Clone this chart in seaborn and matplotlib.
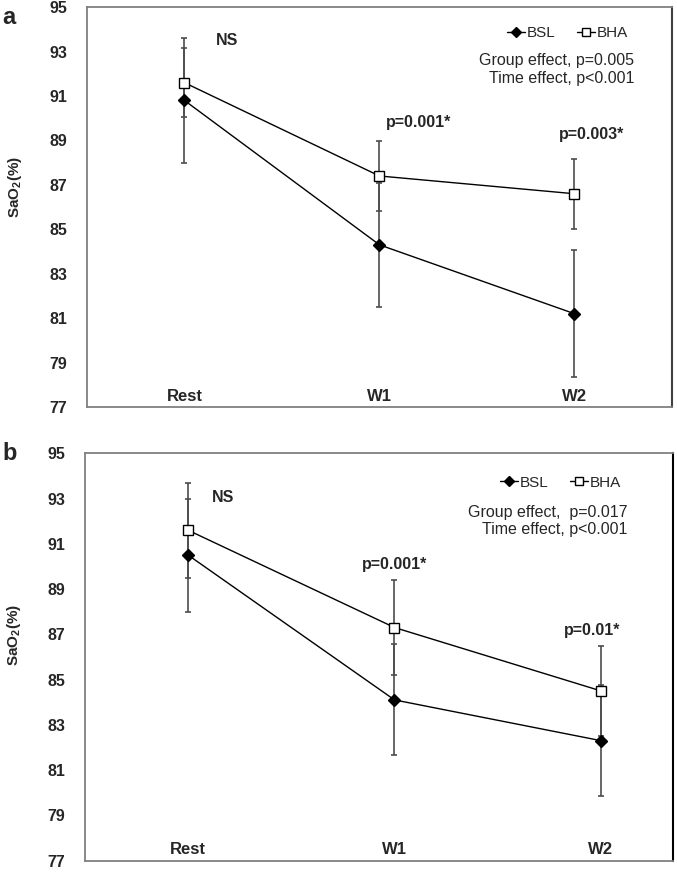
import numpy as np
import matplotlib
matplotlib.use('Agg')
import matplotlib.pyplot as plt
import seaborn as sns

times = ['Rest', 'W1', 'W2']

# panel a
a_bsl = [90.8, 84.3, 81.2]
a_bsl_sd = [2.8, 2.8, 2.85]
a_bha = [91.6, 87.4, 86.6]
a_bha_sd = [1.55, 1.57, 1.57]
a_pvals = ['NS', 'p=0.001*', 'p=0.003*']
a_stats = 'Group effect, p=0.005\nTime effect, p<0.001'

# panel b
b_bsl = [90.5, 84.1, 82.3]
b_bsl_sd = [2.5, 2.45, 2.45]
b_bha = [91.6, 87.3, 84.5]
b_bha_sd = [2.1, 2.1, 2.0]
b_pvals = ['NS', 'p=0.001*', 'p=0.01*']
b_stats = 'Group effect,  p=0.017\nTime effect, p<0.001'

yticks = list(range(77, 96, 2))


def draw_panel(ax, bsl, bsl_sd, bha, bha_sd, pvals, pval_pos, stats, stats_xy, leg_anchor, xmax,
               right_col, ylab_xy):
    pos = np.arange(len(times))
    # SD bars first, points on top
    ax.errorbar(pos, bsl, yerr=bsl_sd, fmt='none', ecolor='#4d4d4d', elinewidth=1.2, capsize=2.5, capthick=1.2, zorder=1)
    ax.errorbar(pos, bha, yerr=bha_sd, fmt='none', ecolor='#4d4d4d', elinewidth=1.2, capsize=2.5, capthick=1.2, zorder=1)
    sns.pointplot(x=times, y=bsl, ax=ax, color='black', markers='D', linestyles='-', errorbar=None,
                  linewidth=1, markersize=6.5, markeredgewidth=1, label='BSL', zorder=3)
    sns.pointplot(x=times, y=bha, ax=ax, color='black', markers='s', linestyles='-', errorbar=None,
                  linewidth=1, markersize=6.5, markeredgewidth=1, markerfacecolor='white', label='BHA', zorder=3)

    ax.set_xlim(-0.5, xmax)
    ax.set_ylim(77, 95)
    ax.set_yticks(yticks)
    ax.set_yticklabels([str(t) for t in yticks], fontweight='bold', fontsize=11.5)
    ax.set_xticks(pos)
    ax.set_xticklabels(times, fontweight='bold', fontsize=12)
    ax.tick_params(axis='x', length=0, pad=-13)
    ax.tick_params(axis='y', length=5, width=1, color='#808080', direction='out', pad=9)
    ax.set_xlabel('')
    ax.set_ylabel('SaO$_\\mathbf{2}$(%)', fontweight='bold', fontsize=11)
    ax.yaxis.set_label_coords(*ylab_xy)

    for side in ['left', 'top', 'bottom']:
        ax.spines[side].set_color('#808080')
        ax.spines[side].set_linewidth(1.3)
    ax.spines['right'].set_color(right_col)
    ax.spines['right'].set_linewidth(1.5)

    for txt, (x, y) in zip(pvals, pval_pos):
        ax.text(x, y, txt, ha='center', va='center', fontweight='bold', fontsize=11.5)

    ax.text(stats_xy[0], stats_xy[1], stats, transform=ax.transAxes, ha='right', va='top',
            fontsize=11.5, linespacing=1.2)
    ax.legend(loc='upper right', bbox_to_anchor=leg_anchor, ncol=2, frameon=False, fontsize=11,
              handlelength=1.2, handletextpad=0.1, columnspacing=1.4, borderaxespad=0,
              markerscale=0.85, borderpad=0.2)


sns.set_theme(style='white')
plt.rcParams['font.family'] = ['Liberation Sans', 'DejaVu Sans']
plt.rcParams['mathtext.fontset'] = 'custom'
plt.rcParams['mathtext.rm'] = 'Liberation Sans'
plt.rcParams['mathtext.bf'] = 'Liberation Sans:bold'

fig = plt.figure(figsize=(6.77, 8.73), dpi=100)
ax_a = fig.add_axes([0.1285, 0.5338, 0.864, 0.458])
ax_b = fig.add_axes([0.1256, 0.0143, 0.8685, 0.4664])

draw_panel(ax_a, a_bsl, a_bsl_sd, a_bha, a_bha_sd, a_pvals,
           [(0.22, 93.5), (1.2, 89.8), (2.09, 89.25)],
           a_stats, (0.935, 0.885), (0.93, 0.96), 2.5, '#404040', (-0.108, 0.55))
draw_panel(ax_b, b_bsl, b_bsl_sd, b_bha, b_bha_sd, b_pvals,
           [(0.17, 93.05), (1.0, 90.1), (1.96, 87.15)],
           b_stats, (0.922, 0.873), (0.917, 0.953), 2.35, 'black', (-0.105, 0.555))

fig.text(0.004, 0.993, 'a', fontsize=17, fontweight='bold', va='top')
fig.text(0.004, 0.494, 'b', fontsize=17, fontweight='bold', va='top')

plt.savefig('out.png', dpi=100)
plt.close()
